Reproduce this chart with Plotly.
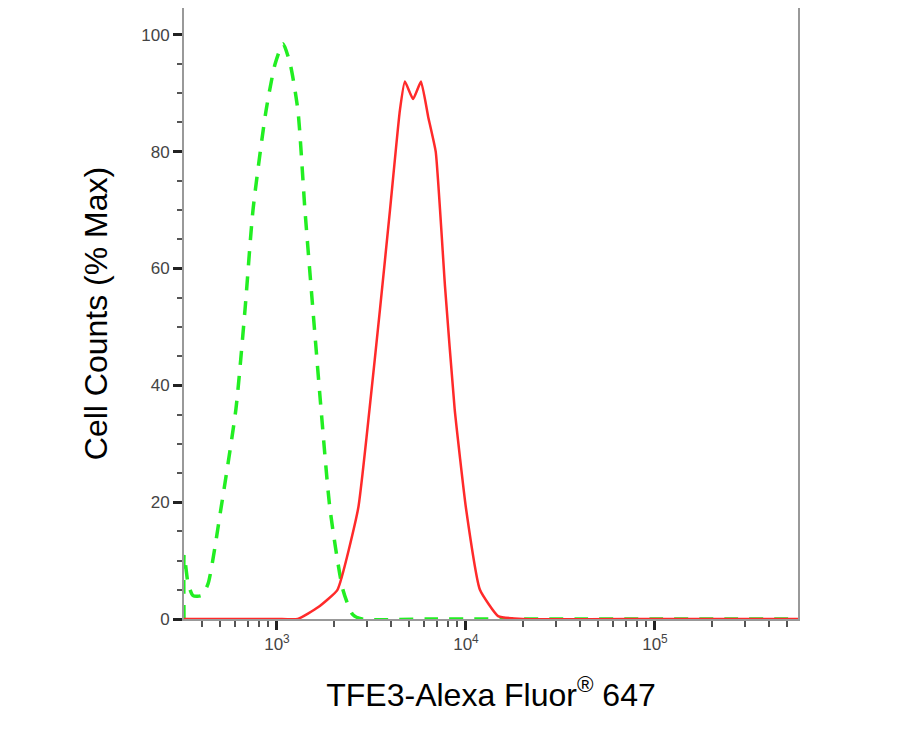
import plotly.graph_objects as go

green_logx = [2.508, 2.509, 2.53, 2.556, 2.60, 2.635, 2.704, 2.783, 2.831, 2.873, 2.942, 2.99, 3.032, 3.07, 3.111, 3.148, 3.19, 3.233, 3.28, 3.349, 3.40, 3.45, 3.8, 4.2, 4.6, 5.0, 5.4, 5.76]
green_y = [0, 11, 6, 4, 4, 6, 19, 36, 53, 70, 87, 95, 98.5, 95, 87, 70, 53, 36, 19, 5, 0.8, 0, 0, 0, 0, 0, 0, 0]
red_logx = [2.508, 3.0, 3.11, 3.217, 3.32, 3.43, 3.49, 3.545, 3.598, 3.65, 3.677, 3.72, 3.762, 3.80, 3.84, 3.889, 3.94, 4.0, 4.074, 4.17, 4.3, 5.0, 5.76]
red_y = [0, 0, 0, 2, 5, 19, 36, 53, 70, 87, 92, 89, 92, 86, 80, 57, 36, 19, 5, 0.5, 0, 0, 0]
x_tickvals = [1e3, 1e4, 1e5]
x_ticktext = ["10<sup>3</sup>", "10<sup>4</sup>", "10<sup>5</sup>"]
y_tickvals = [0, 20, 40, 60, 80, 100]

fig = go.Figure()
fig.add_trace(go.Scatter(x=[10**v for v in green_logx], y=green_y, mode="lines",
                         line=dict(color="#22ee22", width=3.5, dash="14px,11px", shape="spline", smoothing=0.6)))
fig.add_trace(go.Scatter(x=[10**v for v in red_logx], y=red_y, mode="lines",
                         line=dict(color="#ff2a2a", width=2.5, shape="spline", smoothing=0.4)))

fig.update_layout(
    width=901, height=730, showlegend=False,
    paper_bgcolor="white", plot_bgcolor="white",
    margin=dict(l=176, r=111, t=0, b=119),
    font=dict(family="Liberation Sans, Arial", color="#444"),
    xaxis=dict(type="log", range=[2.508, 5.757], tickvals=x_tickvals, ticktext=x_ticktext, automargin=False,
               showgrid=False, zeroline=False, showline=True, linecolor="#999", linewidth=2, mirror=True,
               ticks="outside", ticklen=9, tickwidth=3, tickcolor="#222",
               minor=dict(ticks="outside", ticklen=6, tickwidth=2, tickcolor="#555", dtick="D1"),
               tickfont=dict(size=17, color="#444"),
               title=dict(text="TFE3-Alexa Fluor<sup>®</sup> 647", font=dict(size=32, color="black"), standoff=30)),
    yaxis=dict(range=[0, 104.6], tickvals=y_tickvals, automargin=False,
               showgrid=False, zeroline=False, showline=True, linecolor="#999", linewidth=2, mirror=True,
               ticks="outside", ticklen=9, tickwidth=3, tickcolor="#222",
               minor=dict(ticks="outside", ticklen=5, tickwidth=2, tickcolor="#555", dtick=5),
               tickfont=dict(size=17, color="#444"),
               title=dict(text="Cell Counts (% Max)", font=dict(size=32, color="black"), standoff=24)),
)
fig.write_html("out.html")
